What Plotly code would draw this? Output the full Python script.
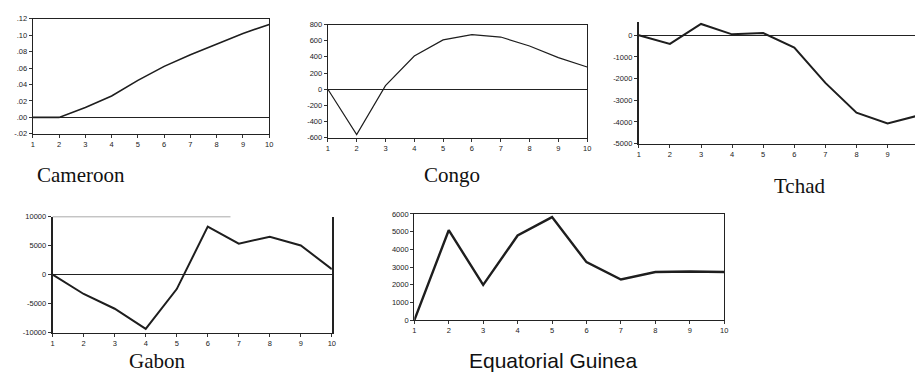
import plotly.graph_objects as go

W, H = 919, 379
periods = list(range(1, 11))

cameroon = [0.0, 0.0, 0.012, 0.026, 0.045, 0.062, 0.076, 0.089, 0.102, 0.113]
congo = [0, -560, 45, 410, 610, 675, 645, 535, 390, 275]
tchad = [0, -400, 520, 40, 100, -570, -2200, -3570, -4070, -3700]
gabon = [0, -3350, -5900, -9400, -2500, 8300, 5350, 6550, 5050, 950]
eq_guinea = [0, 5080, 2000, 4780, 5820, 3280, 2300, 2720, 2750, 2720]

names = ["Cameroon", "Congo", "Tchad", "Gabon", "Equatorial Guinea"]

cam_ticks = [0.12, 0.10, 0.08, 0.06, 0.04, 0.02, 0.0, -0.02]
cam_text = [".12", ".10", ".08", ".06", ".04", ".02", ".00", "-.02"]
congo_ticks = [800, 600, 400, 200, 0, -200, -400, -600]
tchad_ticks = [0, -1000, -2000, -3000, -4000, -5000]
gabon_ticks = [10000, 5000, 0, -5000, -10000]
eg_ticks = [0, 1000, 2000, 3000, 4000, 5000, 6000]


def dx(a, b):
    return [a / W, min(b / W, 1.0)]


def dy(top, bottom):
    return [1 - bottom / H, 1 - top / H]


fig = go.Figure()

tickfont = dict(family="Liberation Sans, Arial", size=7.5, color="#222")

panels = [
    (cameroon, dx(31, 269), dy(15, 133), [-0.02, 0.12], cam_ticks, cam_text, [1, 10], 1.6, True, True),
    (congo, dx(328, 589), dy(21, 137), [-600, 800], congo_ticks, [str(v) for v in congo_ticks], [1, 10], 1.2, True, True),
    (tchad, dx(641, 919), dy(18, 143), [-5000, 630], tchad_ticks, [str(v) for v in tchad_ticks], [1, 1 + 278 / 31.3], 2.0, False, True),
    (gabon, dx(51, 332), dy(218, 337), [-10100, 10000], gabon_ticks, [str(v) for v in gabon_ticks], [1, 10], 2.0, "gabon", True),
    (eq_guinea, dx(415, 727), dy(215, 324), [0, 6000], eg_ticks, [str(v) for v in eg_ticks], [1, 10], 2.4, True, False),
]

for i, (vals, xd, yd, yr, tv, tt, xr, lw, mirror, zl) in enumerate(panels):
    n = "" if i == 0 else str(i + 1)
    fig.add_trace(go.Scatter(x=periods, y=vals, mode="lines",
                             line=dict(color="#1e1e1e", width=lw),
                             xaxis="x" + n, yaxis="y" + n, showlegend=False,
                             hoverinfo="skip"))
    xm = True if mirror is True else False
    ym = True if mirror in (True, "gabon") else False
    fig.update_layout({
        "xaxis" + n: dict(domain=xd, range=xr, anchor="y" + n,
                          tickvals=periods, ticktext=[str(p) for p in periods],
                          ticks="outside", ticklen=3, tickcolor="#333",
                          showline=True, linecolor="#222", linewidth=1.3,
                          mirror=xm, showgrid=False, zeroline=False,
                          tickfont=tickfont, fixedrange=True),
        "yaxis" + n: dict(domain=yd, range=yr, anchor="x" + n,
                          tickvals=tv, ticktext=tt,
                          ticks="outside", ticklen=3, tickcolor="#333",
                          showline=True, linecolor="#222",
                          linewidth=2 if mirror in (False, "gabon") else 1.3,
                          mirror=ym, showgrid=False,
                          zeroline=zl, zerolinecolor="#222", zerolinewidth=1,
                          tickfont=tickfont, fixedrange=True),
    })

# partial grey top line on Gabon panel
fig.add_shape(type="line", xref="paper", yref="paper",
              x0=51 / W, x1=230 / W, y0=1 - 218 / H, y1=1 - 218 / H,
              line=dict(color="#aaa", width=1))

serif = "Liberation Serif, Times New Roman, serif"
titles = [
    (names[0], 80, 175, serif, 21),
    (names[1], 453, 175, serif, 21),
    (names[2], 803, 186, serif, 21),
    (names[3], 156, 366, serif, 21),
    (names[4], 555, 365, "Liberation Sans, Arial, sans-serif", 21),
]
for text, cx, cy, fam, sz in titles:
    fig.add_annotation(text=text, x=cx / W, y=1 - cy / H, xref="paper", yref="paper",
                       showarrow=False, xanchor="center", yanchor="middle",
                       font=dict(family=fam, size=sz, color="#111"))

fig.update_layout(width=W, height=H, margin=dict(l=0, r=0, t=0, b=0),
                  paper_bgcolor="white", plot_bgcolor="white")

fig.write_html("out.html")
